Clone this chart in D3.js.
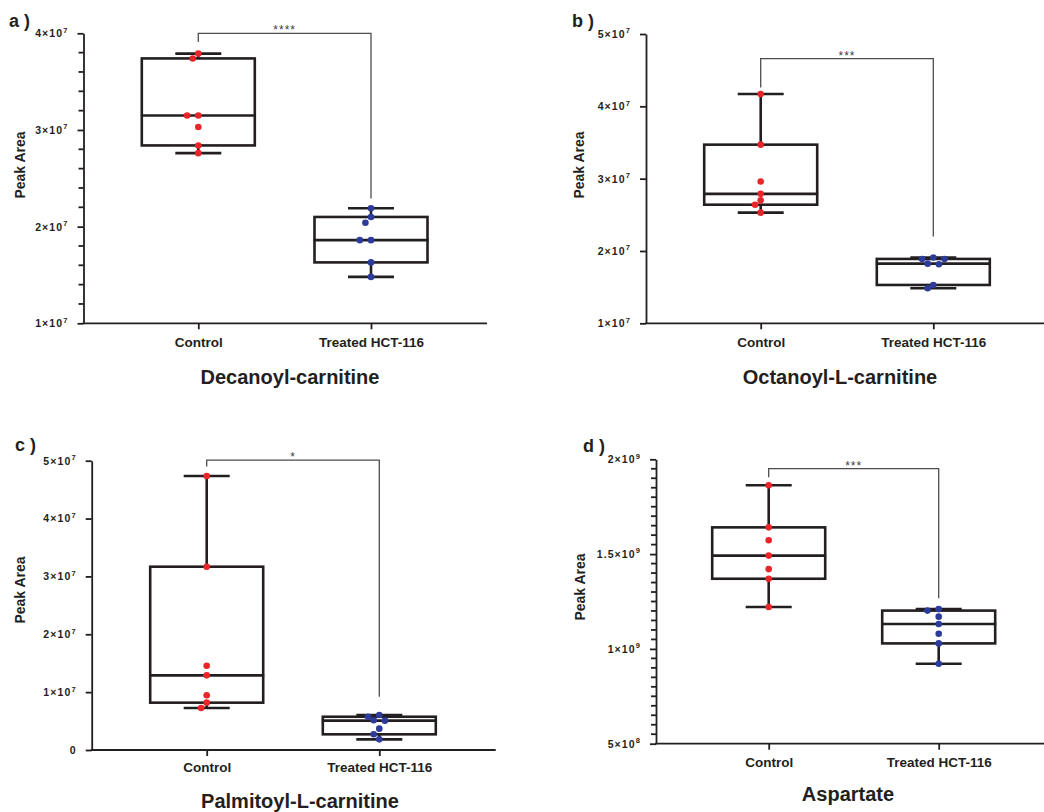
<!DOCTYPE html>
<html><head><meta charset="utf-8">
<script src="https://cdn.jsdelivr.net/npm/d3@7"></script>
<style>body{margin:0;background:#fff} svg{display:block}</style>
</head><body>
<svg id="chart" width="1044" height="812"></svg>
<script>
// ---------- data ----------
const groups = ["Control", "Treated HCT-116"];
const metabolites = ["Decanoyl-carnitine", "Octanoyl-L-carnitine", "Palmitoyl-L-carnitine", "Aspartate"];
const panelLabels = ["a )", "b )", "c )", "d )"];
const significance = ["****", "***", "*", "***"];

const decanoylControl = [3.79e7, 3.74e7, 3.15e7, 3.15e7, 3.03e7, 2.84e7, 2.76e7];
const decanoylTreated = [2.19e7, 2.10e7, 2.04e7, 1.86e7, 1.86e7, 1.63e7, 1.48e7];
const octanoylControl = [4.17e7, 3.47e7, 2.96e7, 2.79e7, 2.70e7, 2.64e7, 2.53e7];
const octanoylTreated = [1.91e7, 1.89e7, 1.89e7, 1.825e7, 1.816e7, 1.53e7, 1.484e7];
const palmitoylControl = [4.735e7, 3.168e7, 1.457e7, 1.29e7, 0.945e7, 0.818e7, 0.726e7];
const palmitoylTreated = [0.605e7, 0.575e7, 0.513e7, 0.507e7, 0.369e7, 0.271e7, 0.184e7];
const aspartateControl = [1.863e9, 1.641e9, 1.573e9, 1.492e9, 1.421e9, 1.370e9, 1.221e9];
const aspartateTreated = [1.210e9, 1.202e9, 1.170e9, 1.131e9, 1.080e9, 1.029e9, 0.922e9];

const decanoylTicks = [1e7, 2e7, 3e7, 4e7];
const octanoylTicks = [1e7, 2e7, 3e7, 4e7, 5e7];
const palmitoylTicks = [0, 1e7, 2e7, 3e7, 4e7, 5e7];
const aspartateTicks = [5e8, 1e9, 1.5e9, 2e9];
const decanoylMinorTicks = [1.2e7, 1.4e7, 1.6e7, 1.8e7, 2.2e7, 2.4e7, 2.6e7, 2.8e7, 3.2e7, 3.4e7, 3.6e7, 3.8e7];
const aspartateMinorTicks = [5.5e8, 6e8, 6.5e8, 7e8, 7.5e8, 8e8, 8.5e8, 9e8, 9.5e8,
  1.05e9, 1.1e9, 1.15e9, 1.2e9, 1.25e9, 1.3e9, 1.35e9, 1.4e9, 1.45e9,
  1.55e9, 1.6e9, 1.65e9, 1.7e9, 1.75e9, 1.8e9, 1.85e9, 1.9e9, 1.95e9];
const minorTicksByPanel = [decanoylMinorTicks, [], [], aspartateMinorTicks];

// significance bracket ends (data units)
const bracketTop = [4.0e7, 4.66e7, 5.01e7, 1.951e9];
const bracketLeftEnd = [3.91e7, 4.26e7, 4.9e7, 1.905e9];
const bracketRightEnd = [2.29e7, 2.2e7, 0.92e7, 1.267e9];

// ---------- layout ----------
const layout = [
  {axisX: 83.5, right: 487, yTop: 33.3, yBottom: 323.3, xs: [198.3, 371], ylab: [20, 165], title: [290, 383.5], tickY: 346.5, plabel: [9, 26.5]},
  {axisX: 646, right: 1044, yTop: 34, yBottom: 323.3, xs: [760.7, 933.3], ylab: [579, 165], title: [840, 383.5], tickY: 346.5, plabel: [572, 26.5]},
  {axisX: 91.7, right: 495.7, yTop: 460.7, yBottom: 750, xs: [206.7, 379.3], ylab: [20, 590], title: [300, 808], tickY: 772, plabel: [15, 451]},
  {axisX: 656, right: 1044, yTop: 459.3, yBottom: 743.7, xs: [768.7, 938.7], ylab: [580, 587], title: [848, 801], tickY: 766.5, plabel: [583, 451.5]}
];

const seriesByPanel = [
  [decanoylControl, decanoylTreated],
  [octanoylControl, octanoylTreated],
  [palmitoylControl, palmitoylTreated],
  [aspartateControl, aspartateTreated]
];
const ticksByPanel = [decanoylTicks, octanoylTicks, palmitoylTicks, aspartateTicks];
const dotColors = ["#e8262a", "#2d3c9a"];
const ink = "#231f20";
const FONT = "'Liberation Sans', Arial, sans-serif";

const svg = d3.select("#chart");

function prismQuantile(sorted, p) {
  const n = sorted.length;
  const pos = (n + 1) * p;
  const lo = Math.floor(pos), frac = pos - lo;
  if (lo < 1) return sorted[0];
  if (lo >= n) return sorted[n - 1];
  return sorted[lo - 1] + frac * (sorted[lo] - sorted[lo - 1]);
}

function fmtTick(v) {
  if (v === 0) return ["0", ""];
  const e = Math.floor(Math.log10(v) + 1e-9);
  const m = Math.round(v / Math.pow(10, e) * 10) / 10;
  return [m + "×10", String(e)];
}

seriesByPanel.forEach((series, i) => {
  const L = layout[i];
  const ticks = ticksByPanel[i];
  const g = svg.append("g");
  const y = d3.scaleLinear().domain([ticks[0], ticks[ticks.length - 1]]).range([L.yBottom, L.yTop]);
  const x = d3.scalePoint().domain(groups).range(L.xs).padding(0);

  // y axis
  const ya = g.append("g").attr("transform", `translate(${L.axisX},0)`)
    .call(d3.axisLeft(y).tickValues(ticks).tickSize(6).tickSizeOuter(0).tickPadding(9));
  ya.select(".domain").attr("stroke", ink).attr("stroke-width", 1.8);
  ya.selectAll("line").attr("stroke", ink).attr("stroke-width", 1.8);
  ya.selectAll("text").each(function(d) {
    const [base, sup] = fmtTick(d);
    const t = d3.select(this).text(null)
      .attr("font-family", FONT).attr("font-weight", "bold").attr("font-size", 10.5)
      .attr("fill", ink).attr("letter-spacing", 1.1).attr("dy", "0.32em");
    t.append("tspan").text(base);
    if (sup) t.append("tspan").attr("font-size", 7.5).attr("dy", -4.5).text(sup);
  });

  // minor ticks (inside the axis group)
  ya.selectAll("line.minor").data(minorTicksByPanel[i]).join("line")
    .attr("class", "minor")
    .attr("x1", -5).attr("x2", 0)
    .attr("y1", d => y(d)).attr("y2", d => y(d))
    .attr("stroke", ink).attr("stroke-width", 1.8);

  // x axis
  const xa = g.append("g").attr("transform", `translate(0,${L.yBottom})`)
    .call(d3.axisBottom(x).tickSize(6).tickSizeOuter(0));
  xa.select(".domain").remove();
  xa.selectAll("line").attr("stroke", ink).attr("stroke-width", 1.8);
  xa.selectAll("text").attr("y", null).attr("dy", null)
    .attr("transform", `translate(0,${L.tickY - L.yBottom})`)
    .attr("font-family", FONT).attr("font-weight", "bold").attr("font-size", 13.5).attr("fill", ink);
  g.append("line").attr("x1", L.axisX - 0.9).attr("x2", L.right).attr("y1", L.yBottom).attr("y2", L.yBottom)
    .attr("stroke", ink).attr("stroke-width", 1.8);

  // boxes
  const boxW = 113, capW = 46, lw = 2.6;
  series.forEach((vals, gi) => {
    const s = vals.slice().sort(d3.ascending);
    const q1 = prismQuantile(s, 0.25), med = prismQuantile(s, 0.5), q3 = prismQuantile(s, 0.75);
    const lo = s[0], hi = s[s.length - 1];
    const cx = x(groups[gi]);
    const bg = g.append("g").attr("stroke", ink).attr("stroke-width", lw).attr("fill", "none");
    bg.append("line").attr("x1", cx).attr("x2", cx).attr("y1", y(hi)).attr("y2", y(q3));
    bg.append("line").attr("x1", cx).attr("x2", cx).attr("y1", y(q1)).attr("y2", y(lo));
    bg.append("line").attr("x1", cx - capW / 2).attr("x2", cx + capW / 2).attr("y1", y(hi)).attr("y2", y(hi));
    bg.append("line").attr("x1", cx - capW / 2).attr("x2", cx + capW / 2).attr("y1", y(lo)).attr("y2", y(lo));
    bg.append("rect").attr("x", cx - boxW / 2).attr("y", y(q3)).attr("width", boxW).attr("height", y(q1) - y(q3))
      .attr("fill", "#fff");
    bg.append("line").attr("x1", cx - boxW / 2 - 1).attr("x2", cx + boxW / 2 + 1).attr("y1", y(med)).attr("y2", y(med));

    // beeswarm dots
    const r = 3.3, step = 5.6, minD = 6.4;
    const placed = [];
    s.slice().reverse().forEach(v => {
      const py = y(v);
      let off = 0;
      for (let k = 0; k < 20; k++) {
        const cand = k === 0 ? 0 : (k % 2 ? -1 : 1) * Math.ceil(k / 2) * step;
        if (placed.every(p => Math.hypot(p.x - cand, p.y - py) >= minD)) { off = cand; break; }
      }
      placed.push({x: off, y: py});
    });
    g.append("g").selectAll("circle").data(placed).join("circle")
      .attr("cx", d => cx + d.x).attr("cy", d => d.y).attr("r", r).attr("fill", dotColors[gi]);
  });

  // significance bracket
  const xl = x(groups[0]), xr = x(groups[1]);
  g.append("path")
    .attr("d", `M${xl},${y(bracketLeftEnd[i])}V${y(bracketTop[i])}H${xr}V${y(bracketRightEnd[i])}`)
    .attr("fill", "none").attr("stroke", "#4d4d4f").attr("stroke-width", 1.3);
  g.append("text").attr("x", (xl + xr) / 2).attr("y", y(bracketTop[i]) + 1)
    .attr("text-anchor", "middle").attr("font-family", FONT).attr("font-size", 12)
    .attr("letter-spacing", 1).attr("fill", "#3d3d3f").text(significance[i]);

  // labels
  g.append("text").attr("transform", `translate(${L.ylab[0]},${L.ylab[1]}) rotate(-90)`)
    .attr("text-anchor", "middle").attr("dy", "0.35em")
    .attr("font-family", FONT).attr("font-weight", "bold").attr("font-size", 14).attr("fill", ink).text("Peak Area");
  g.append("text").attr("x", L.title[0]).attr("y", L.title[1]).attr("text-anchor", "middle")
    .attr("font-family", FONT).attr("font-weight", "bold").attr("font-size", 20).attr("fill", ink).text(metabolites[i]);
  g.append("text").attr("x", L.plabel[0]).attr("y", L.plabel[1])
    .attr("font-family", FONT).attr("font-weight", "bold").attr("font-size", 18).attr("fill", ink).text(panelLabels[i]);
});
</script>
</body></html>
